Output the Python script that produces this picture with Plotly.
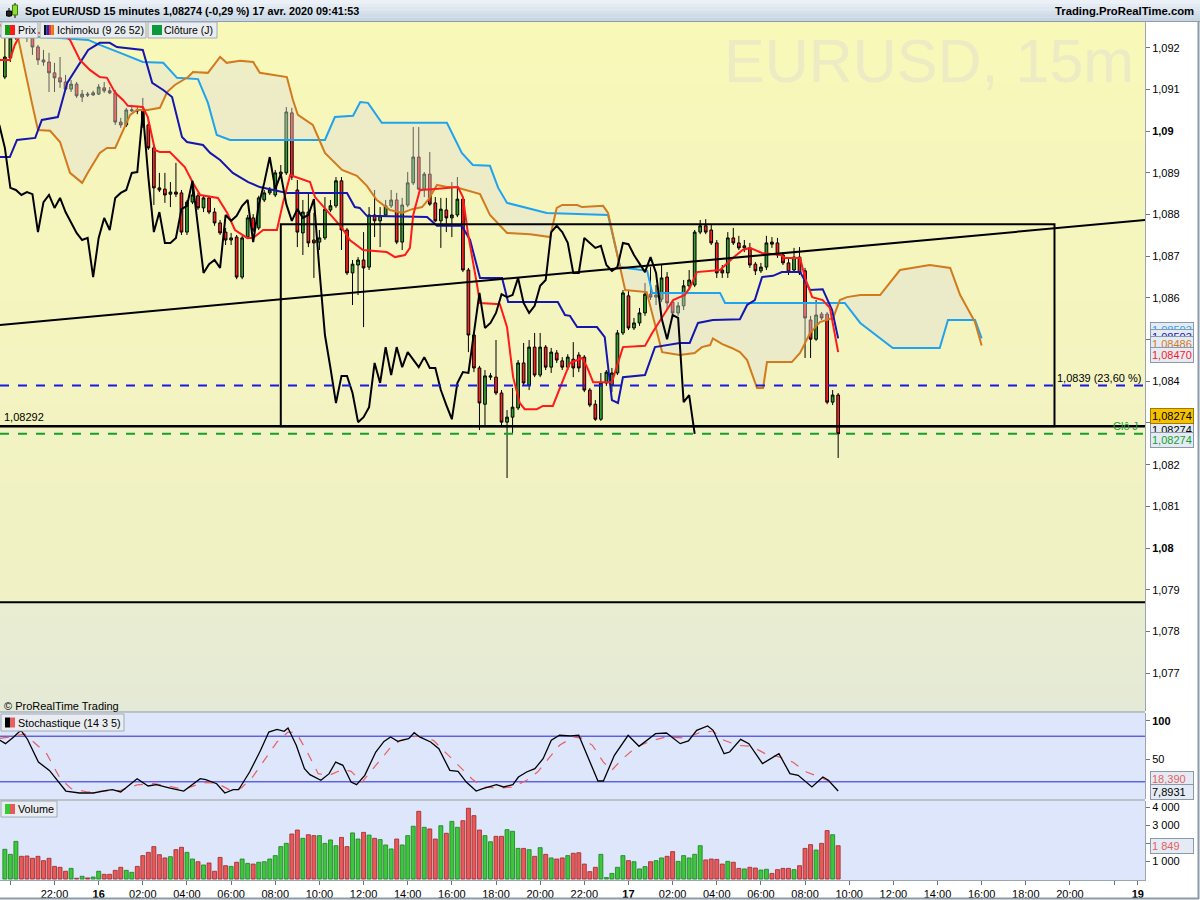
import plotly.graph_objects as go

# ------------------------------------------------------------------ data
bar_idx = list(range(152))  # 15-minute bars, bar 0 = 15 avr. 19:45

open_ = [1.09130,1.09176,1.09224,1.09243,1.09236,1.09224,1.09202,1.09171,1.09166,1.09140,
1.09128,1.09118,1.09101,1.09113,1.09082,1.09089,1.09087,1.09089,1.09104,1.09097,
1.09092,1.09022,1.09015,1.09049,1.09051,1.09049,1.09015,1.08960,1.08864,1.08861,
1.08849,1.08854,1.08852,1.08758,1.08830,1.08845,1.08816,1.08840,1.08806,1.08780,
1.08758,1.08739,1.08746,1.08650,1.08746,1.08792,1.08768,1.08835,1.08852,1.08847,
1.08897,1.08900,1.09044,1.08859,1.08756,1.08806,1.08739,1.08734,1.08744,1.08811,
1.08821,1.08881,1.08763,1.08660,1.08679,1.08691,1.08674,1.08799,1.08785,1.08799,
1.08821,1.08835,1.08734,1.08823,1.08876,1.08938,1.08861,1.08897,1.08828,1.08785,
1.08811,1.08792,1.08799,1.08837,1.08667,1.08511,1.08432,1.08345,1.08410,1.08410,
1.08372,1.08302,1.08314,1.08336,1.08444,1.08391,1.08482,1.08415,1.08482,1.08434,
1.08468,1.08449,1.08434,1.08453,1.08463,1.08458,1.08379,1.08345,1.08309,1.08396,
1.08391,1.08420,1.08516,1.08605,1.08528,1.08540,1.08564,1.08609,1.08602,1.08597,
1.08650,1.08590,1.08564,1.08581,1.08629,1.08631,1.08758,1.08773,1.08763,1.08732,
1.08667,1.08660,1.08744,1.08732,1.08720,1.08720,1.08681,1.08665,1.08674,1.08734,
1.08732,1.08703,1.08684,1.08667,1.08698,1.08665,1.08547,1.08501,1.08561,1.08561,
1.08350,1.08367]

high = [1.09224,1.09243,1.09257,1.09253,1.09248,1.09231,1.09207,1.09195,1.09188,1.09164,
1.09178,1.09135,1.09123,1.09118,1.09099,1.09094,1.09097,1.09113,1.09118,1.09106,
1.09099,1.09032,1.09056,1.09058,1.09061,1.09080,1.09027,1.08967,1.08900,1.08900,
1.08878,1.08924,1.08859,1.08835,1.08878,1.08852,1.08847,1.08845,1.08816,1.08787,
1.08768,1.08756,1.08751,1.08749,1.08799,1.08801,1.08845,1.08859,1.08866,1.08907,
1.08919,1.09058,1.09056,1.08883,1.08835,1.08852,1.08804,1.08763,1.08842,1.08835,
1.08890,1.08890,1.08768,1.08691,1.08698,1.08758,1.08818,1.08859,1.08818,1.08835,
1.08859,1.08852,1.08840,1.08902,1.09010,1.09010,1.08902,1.08950,1.08842,1.08840,
1.08840,1.08878,1.08890,1.08842,1.08672,1.08516,1.08437,1.08427,1.08420,1.08499,
1.08379,1.08331,1.08384,1.08451,1.08492,1.08499,1.08516,1.08516,1.08487,1.08480,
1.08475,1.08458,1.08465,1.08494,1.08470,1.08463,1.08384,1.08355,1.08420,1.08427,
1.08432,1.08523,1.08619,1.08619,1.08552,1.08576,1.08636,1.08674,1.08631,1.08679,
1.08662,1.08595,1.08590,1.08643,1.08667,1.08763,1.08787,1.08789,1.08775,1.08739,
1.08679,1.08758,1.08768,1.08749,1.08739,1.08732,1.08686,1.08684,1.08749,1.08746,
1.08744,1.08710,1.08696,1.08720,1.08722,1.08672,1.08557,1.08595,1.08566,1.08566,
1.08379,1.08372]

low = [1.09125,1.09166,1.09219,1.09224,1.09214,1.09183,1.09159,1.09157,1.09094,1.09094,
1.09104,1.09099,1.09094,1.09080,1.09070,1.09082,1.09085,1.09087,1.09092,1.09089,
1.09015,1.09008,1.09010,1.09046,1.09041,1.09008,1.08955,1.08823,1.08854,1.08828,
1.08818,1.08842,1.08751,1.08751,1.08825,1.08811,1.08806,1.08801,1.08773,1.08751,
1.08727,1.08727,1.08645,1.08645,1.08741,1.08758,1.08763,1.08830,1.08847,1.08842,
1.08888,1.08895,1.08883,1.08722,1.08703,1.08722,1.08648,1.08715,1.08739,1.08806,
1.08816,1.08715,1.08655,1.08583,1.08607,1.08530,1.08667,1.08746,1.08722,1.08794,
1.08816,1.08729,1.08715,1.08818,1.08871,1.08859,1.08842,1.08821,1.08782,1.08720,
1.08758,1.08746,1.08794,1.08662,1.08470,1.08422,1.08283,1.08295,1.08403,1.08367,
1.08295,1.08168,1.08276,1.08331,1.08391,1.08379,1.08410,1.08410,1.08427,1.08420,
1.08444,1.08427,1.08427,1.08410,1.08422,1.08374,1.08338,1.08305,1.08305,1.08389,
1.08374,1.08415,1.08511,1.08523,1.08523,1.08533,1.08557,1.08595,1.08583,1.08590,
1.08571,1.08552,1.08557,1.08571,1.08619,1.08626,1.08753,1.08753,1.08727,1.08648,
1.08648,1.08648,1.08727,1.08715,1.08710,1.08672,1.08655,1.08660,1.08667,1.08720,
1.08696,1.08679,1.08655,1.08662,1.08655,1.08456,1.08456,1.08497,1.08547,1.08345,
1.08343,1.08216]

close = [1.09178,1.09224,1.09243,1.09236,1.09224,1.09202,1.09171,1.09166,1.09140,1.09128,
1.09118,1.09101,1.09113,1.09085,1.09089,1.09087,1.09092,1.09106,1.09097,1.09092,
1.09022,1.09015,1.09051,1.09051,1.09049,1.09015,1.08960,1.08864,1.08859,1.08847,
1.08854,1.08849,1.08758,1.08830,1.08847,1.08816,1.08840,1.08806,1.08780,1.08756,
1.08739,1.08744,1.08650,1.08744,1.08792,1.08763,1.08840,1.08852,1.08859,1.08900,
1.08902,1.09046,1.08890,1.08758,1.08806,1.08732,1.08732,1.08744,1.08813,1.08821,
1.08881,1.08763,1.08660,1.08681,1.08691,1.08672,1.08799,1.08785,1.08797,1.08821,
1.08835,1.08734,1.08823,1.08876,1.08938,1.08861,1.08897,1.08825,1.08785,1.08813,
1.08792,1.08799,1.08837,1.08667,1.08511,1.08432,1.08348,1.08413,1.08413,1.08372,
1.08302,1.08314,1.08338,1.08444,1.08396,1.08482,1.08415,1.08482,1.08434,1.08470,
1.08451,1.08434,1.08458,1.08432,1.08432,1.08379,1.08343,1.08309,1.08396,1.08422,
1.08420,1.08516,1.08612,1.08528,1.08540,1.08564,1.08609,1.08602,1.08607,1.08648,
1.08588,1.08564,1.08581,1.08629,1.08643,1.08758,1.08773,1.08758,1.08732,1.08660,
1.08660,1.08744,1.08732,1.08720,1.08725,1.08679,1.08665,1.08674,1.08732,1.08729,
1.08703,1.08684,1.08662,1.08698,1.08660,1.08552,1.08501,1.08559,1.08552,1.08350,
1.08367,1.08274]

volume = [1650,1370,2090,1260,1280,1150,1260,1020,1150,700,
650,430,590,40,150,60,110,430,260,260,
480,650,480,370,700,1300,1480,1800,1350,1170,
1240,1630,1760,1480,1110,960,780,890,430,1200,
740,700,930,1110,870,830,930,960,1110,1300,
1800,1980,2500,2720,2260,2460,2410,2410,1980,2170,
1850,2310,1800,2560,2220,2590,2440,2260,2190,1890,
1670,2220,1890,2410,2930,3760,2870,2780,2220,2960,
2540,3200,2870,3240,3930,3520,2720,2410,2070,2370,
2370,2740,2650,1700,1700,1630,1260,1740,1370,1170,
1110,1170,1300,1430,1460,830,410,650,1370,80,
310,650,1300,1020,960,560,690,960,1020,1170,
1260,1520,980,1300,1170,1370,1850,1060,1110,1090,
830,980,930,590,560,650,610,500,540,310,
520,590,590,520,740,1700,1910,1610,1980,2690,
2460,1849]

# Ichimoku (9 26 52) lines, read at their turning points (bar index, price)
tenkan_x = [-0.9,0.9,1.8,2.7,6.4,10.4,11.8,13.6,15.4,17.2,18.5,20.0,21.4,22.3,25.0,25.9,27.2,28.1,29.9,31.7,
32.6,34.1,35.4,38.6,40.3,41.7,43.9,45.0,46.8,49.3,50.4,51.7,55.3,56.2,61.1,62.5,64.9,69.2,70.7,72.5,
73.4,74.0,75.2,77.4,82.1,83.0,83.9,85.5,86.1,89.7,91.0,92.1,93.3,94.2,96.4,97.5,99.3,101.0,102.4,104.6,
105.5,106.6,110.0,112.0,116.0,117.3,119.1,121.1,123.2,124.1,125.4,129.6,131.9,133.7,135.0,137.2,140.5,141.4,144.1,145.0,
146.3,148.2,149.5,151.0]
tenkan_y = [1.09171,1.09171,1.09207,1.09229,1.09236,1.09236,1.09219,1.09171,1.09147,1.09130,1.09128,1.09092,1.09075,1.09061,1.09058,1.09034,1.08955,1.08950,1.08950,1.08926,
1.08914,1.08876,1.08847,1.08840,1.08804,1.08763,1.08744,1.08744,1.08763,1.08763,1.08828,1.08895,1.08878,1.08842,1.08768,1.08739,1.08715,1.08710,1.08698,1.08703,
1.08720,1.08799,1.08859,1.08861,1.08866,1.08842,1.08756,1.08636,1.08588,1.08585,1.08530,1.08410,1.08348,1.08333,1.08333,1.08341,1.08341,1.08398,1.08444,1.08456,
1.08434,1.08398,1.08398,1.08482,1.08485,1.08516,1.08552,1.08595,1.08607,1.08624,1.08662,1.08667,1.08696,1.08715,1.08720,1.08708,1.08703,1.08696,1.08696,1.08648,
1.08602,1.08595,1.08576,1.08470]

kijun_x = [-0.9,0.9,2.2,5.5,6.7,9.6,11.3,13.1,15.1,17.2,19.0,20.3,25.0,26.7,28.7,30.3,32.1,33.0,35.9,37.2,
39.0,41.3,44.1,46.2,49.8,51.1,62.0,63.4,64.3,65.6,76.5,78.3,82.8,84.3,86.1,90.1,91.2,100.2,101.5,102.4,
103.7,107.3,108.7,110.0,111.1,112.0,116.0,117.8,122.3,124.1,125.6,128.3,133.2,134.5,135.9,137.2,139.2,140.8,144.1,145.9,
148.2,149.9,151.0]
kijun_y = [1.08938,1.08938,1.08979,1.08984,1.09027,1.09034,1.09116,1.09154,1.09195,1.09212,1.09212,1.09202,1.09195,1.09116,1.09099,1.09082,1.08986,1.08974,1.08967,1.08948,
1.08931,1.08900,1.08878,1.08866,1.08857,1.08852,1.08852,1.08818,1.08816,1.08797,1.08794,1.08773,1.08773,1.08739,1.08648,1.08648,1.08590,1.08590,1.08559,1.08557,
1.08530,1.08530,1.08506,1.08355,1.08348,1.08410,1.08415,1.08482,1.08492,1.08492,1.08540,1.08547,1.08549,1.08583,1.08595,1.08650,1.08653,1.08662,1.08662,1.08619,
1.08621,1.08571,1.08503]

senkou_a_x = [-0.9,2.4,4.9,6.0,8.2,10.0,11.8,14.0,15.1,17.2,18.5,20.0,22.7,23.9,25.9,28.1,29.4,30.8,33.2,34.1,
36.8,39.0,40.2,42.6,45.0,46.2,51.1,52.2,53.1,55.8,58.0,61.1,63.8,65.6,67.4,69.8,72.0,73.8,75.6,76.7,
78.3,80.1,81.6,86.1,87.9,91.0,95.2,98.8,100.0,101.0,103.7,104.6,108.4,109.3,112.4,116.3,119.1,122.3,125.0,126.3,
127.8,128.3,130.0,131.7,133.2,134.5,136.3,137.4,138.1,142.6,144.1,145.9,147.7,150.1,151.3,152.6,155.0,158.6,162.2,167.6,
171.3,173.1,175.8,177.0]
senkou_a_y = [1.09255,1.09224,1.09068,1.09003,1.09001,1.08974,1.08900,1.08876,1.08902,1.08948,1.08960,1.08960,1.09039,1.09051,1.09051,1.09056,1.09094,1.09111,1.09130,1.09142,
1.09140,1.09178,1.09164,1.09169,1.09166,1.09140,1.09130,1.09075,1.09039,1.09015,1.08948,1.08907,1.08893,1.08869,1.08835,1.08811,1.08804,1.08813,1.08818,1.08835,
1.08871,1.08866,1.08866,1.08849,1.08799,1.08756,1.08753,1.08746,1.08816,1.08823,1.08823,1.08818,1.08821,1.08804,1.08619,1.08614,1.08470,1.08463,1.08468,1.08482,
1.08487,1.08503,1.08489,1.08480,1.08470,1.08451,1.08384,1.08384,1.08446,1.08446,1.08468,1.08516,1.08542,1.08552,1.08595,1.08602,1.08607,1.08607,1.08667,1.08679,
1.08672,1.08607,1.08542,1.08486]

senkou_b_x = [-0.9,9.4,15.1,17.2,20.9,25.0,28.7,31.2,35.0,36.8,38.4,40.8,58.0,59.8,63.1,64.4,65.8,68.3,80.1,82.8,
84.8,87.9,89.4,91.0,98.2,109.3,111.5,116.4,117.3,129.6,130.5,152.2,155.0,160.9,169.4,170.9,175.8,177.0]
senkou_b_y = [1.09229,1.09224,1.09219,1.09207,1.09188,1.09166,1.09164,1.09128,1.09125,1.09068,1.08991,1.08979,1.08979,1.09034,1.09037,1.09070,1.09068,1.09020,1.09020,1.08948,
1.08919,1.08917,1.08864,1.08828,1.08804,1.08799,1.08674,1.08665,1.08612,1.08612,1.08588,1.08588,1.08540,1.08480,1.08480,1.08547,1.08547,1.08503]

chikou_shift = 26

# Stochastique (14 3 5): %K and %D (bar index, value)
stoch_k_x = [-0.88,0.11,1.60,2.90,4.09,6.08,8.07,9.56,11.05,13.53,16.02,18.50,19.50,20.99,23.97,25.96,27.45,29.93,32.42,35.40,
36.40,38.38,39.87,41.37,42.36,44.35,46.34,47.83,49.32,50.61,51.31,52.80,54.29,55.28,57.27,58.76,59.95,61.25,62.74,63.73,
65.22,67.21,68.70,69.89,71.19,73.17,74.17,75.16,77.15,78.64,80.63,82.12,83.61,85.40,86.60,89.08,90.37,92.06,93.06,94.55,
96.04,97.53,99.02,100.51,102.50,103.99,105.48,107.47,108.46,110.45,112.94,114.92,117.91,119.89,122.38,123.87,125.36,127.35,128.34,130.33,
131.33,133.32,134.81,137.29,140.27,142.26,143.75,146.24,148.23,149.22,151.0]
stoch_k_y = [74.6,70.2,79.0,87.7,76.0,46.0,35.0,22.0,7.9,5.3,5.3,8.8,9.6,6.6,24.1,14.5,16.2,11.8,7.9,24.1,
22.8,17.5,5.3,9.6,9.6,32.9,61.4,85.5,89.0,86.4,90.8,68.0,37.3,29.4,22.0,30.7,46.0,41.7,19.7,16.2,
28.5,59.2,73.2,79.0,73.2,76.7,84.6,79.0,72.4,63.6,35.0,33.7,19.7,7.9,11.0,16.2,13.2,16.2,26.3,32.9,
37.3,50.4,74.6,81.2,80.3,81.2,54.8,21.1,21.1,54.8,81.2,66.7,83.4,84.2,70.2,73.7,87.7,93.4,87.7,57.0,
59.2,75.9,70.2,43.9,57.0,30.7,28.5,13.2,26.3,22.0,7.89]
stoch_d_x = [-0.88,1.11,3.59,7.57,10.05,12.04,15.02,18.50,20.99,23.97,26.95,28.94,32.42,35.90,38.38,40.87,42.86,44.85,46.83,49.32,
51.31,52.80,54.79,56.77,58.76,61.25,62.74,64.73,67.71,69.70,71.69,74.66,77.65,80.13,82.62,84.61,86.60,89.58,92.06,94.55,
96.53,98.52,100.51,103.00,104.48,106.47,108.46,109.95,111.94,114.43,117.41,119.89,123.37,125.86,128.34,130.33,132.81,135.30,137.78,140.27,
142.75,145.24,147.72,149.71,151.0]
stoch_d_y = [77.2,79.0,83.0,57.0,24.0,11.0,6.6,7.5,8.8,16.0,17.5,15.4,10.0,19.0,18.5,8.8,12.0,26.0,46.0,72.4,
85.5,84.6,59.2,30.7,28.5,36.4,33.7,19.7,46.0,63.6,74.6,80.3,74.6,57.0,39.5,24.1,13.2,11.8,13.2,22.0,
32.9,50.4,68.0,79.0,77.5,68.0,46.0,35.0,50.4,65.8,74.6,79.0,77.5,84.6,86.8,74.6,68.0,66.7,57.0,52.7,
46.0,32.9,26.3,19.7,18.39]

# drawn levels
rect_x = [50.0, 190.2]
rect_price = [1.08292, 1.08777]
trend_x = [-0.88, 206.6]
trend_price = [1.08535, 1.08787]
fib_level = 1.0839
close_j = 1.08274
support_level = 1.08292
low_level = 1.0787
stoch_bands = [80, 20]

# tick labels (1,085 / 1,083 / 2 000 sit under the value boxes, as in the reference)
price_ticks = [1.077,1.078,1.079,1.080,1.081,1.082,1.083,1.084,1.085,1.086,1.087,1.088,1.089,1.090,1.091,1.092]
price_tick_text = ["1,077","1,078","1,079","<b>1,08</b>","1,081","1,082","","1,084","","1,086",
                   "1,087","1,088","1,089","<b>1,09</b>","1,091","1,092"]
time_tickvals = [1,9,17,25,33,41,49,57,65,73,81,89,97,105,113,121,129,137,145,153,161,169,177,185,193,201,205.3]
time_ticktext = ["","22:00","<b>16</b>","02:00","04:00","06:00","08:00","10:00","12:00","14:00","16:00","18:00",
                 "20:00","22:00","<b>17</b>","02:00","04:00","06:00","08:00","10:00","12:00","14:00","16:00",
                 "18:00","20:00","","<b>19</b>"]
stoch_ticks = [50, 100]
stoch_tick_text = ["50", "<b>100</b>"]
vol_ticks = [1000, 2000, 3000, 4000]
vol_tick_text = ["1 000", "", "3 000", "4 000"]

# ------------------------------------------------------------------ layout helpers
W, H = 1200, 900
ML, MR, MT, MB = 0, 55, 22, 20
PW, PH = W - ML - MR, H - MT - MB
FONT = "Liberation Sans, Arial, sans-serif"

def px(x):
    return (x - ML) / PW

def py(y):
    return (H - MB - y) / PH

def lerp(c1, c2, t):
    return "rgb(%d,%d,%d)" % tuple(round(a + (b - a) * t) for a, b in zip(c1, c2))

GREEN, RED = "#2f9f2f", "#ff2020"

fig = go.Figure()

# Kumo fill (below candles)
fig.add_trace(go.Scatter(x=senkou_b_x, y=senkou_b_y, mode="lines", line=dict(width=0),
                         hoverinfo="skip", showlegend=False))
fig.add_trace(go.Scatter(x=senkou_a_x, y=senkou_a_y, mode="lines", line=dict(width=0),
                         fill="tonexty", fillcolor="rgba(224,222,214,0.42)",
                         hoverinfo="skip", showlegend=False))

fig.add_trace(go.Candlestick(
    x=bar_idx, open=open_, high=high, low=low, close=close,
    increasing=dict(line=dict(color="#000000", width=1), fillcolor=GREEN),
    decreasing=dict(line=dict(color="#000000", width=1), fillcolor=RED),
    whiskerwidth=0, hoverinfo="skip", showlegend=False))

fig.add_trace(go.Scatter(x=senkou_b_x, y=senkou_b_y, mode="lines",
                         line=dict(color="#1fa3ef", width=2), hoverinfo="skip", showlegend=False))
fig.add_trace(go.Scatter(x=senkou_a_x, y=senkou_a_y, mode="lines",
                         line=dict(color="#d27a1e", width=2), hoverinfo="skip", showlegend=False))
fig.add_trace(go.Scatter(x=kijun_x, y=kijun_y, mode="lines",
                         line=dict(color="#1515b0", width=2), hoverinfo="skip", showlegend=False))
fig.add_trace(go.Scatter(x=tenkan_x, y=tenkan_y, mode="lines",
                         line=dict(color="#ff1a1a", width=2), hoverinfo="skip", showlegend=False))
fig.add_trace(go.Scatter(x=[i - chikou_shift for i in bar_idx[25:]], y=close[25:], mode="lines",
                         line=dict(color="#000000", width=2), hoverinfo="skip", showlegend=False))

# Stochastic
fig.add_trace(go.Scatter(x=stoch_d_x, y=stoch_d_y, yaxis="y2", mode="lines",
                         line=dict(color="#e86060", width=1.2, dash="dash"),
                         hoverinfo="skip", showlegend=False))
fig.add_trace(go.Scatter(x=stoch_k_x, y=stoch_k_y, yaxis="y2", mode="lines",
                         line=dict(color="#000000", width=1.3), hoverinfo="skip", showlegend=False))

# Volume
vol_fill = ["#3cc83c" if c >= o else "#e85a5a" for o, c in zip(open_, close)]
vol_line = ["#1c7d1c" if c >= o else "#9e2424" for o, c in zip(open_, close)]
fig.add_trace(go.Bar(x=bar_idx, y=volume, yaxis="y3", width=0.72,
                     marker=dict(color=vol_fill, line=dict(color=vol_line, width=0.8)),
                     hoverinfo="skip", showlegend=False))

# ------------------------------------------------------------------ shapes
shapes = []
# main panel gradient background
n = 29
for k in range(n):
    y0 = 22 + k * (602 - 22) / n
    y1 = 22 + (k + 1) * (602 - 22) / n
    shapes.append(dict(type="rect", xref="paper", yref="paper", x0=0, x1=1, y0=py(y1 + 0.5), y1=py(y0),
                       fillcolor=lerp((248, 248, 185), (240, 241, 197), k / (n - 1)), line_width=0, layer="below"))
n2 = 8
for k in range(n2):
    y0 = 602 + k * (711 - 602) / n2
    y1 = 602 + (k + 1) * (711 - 602) / n2
    shapes.append(dict(type="rect", xref="paper", yref="paper", x0=0, x1=1, y0=py(y1 + 0.5), y1=py(y0),
                       fillcolor=lerp((233, 237, 209), (229, 234, 214), k / (n2 - 1)), line_width=0, layer="below"))
# panel separators
for ysep in (712, 800):
    shapes.append(dict(type="line", xref="paper", yref="paper", x0=0, x1=1, y0=py(ysep), y1=py(ysep),
                       line=dict(color="#a4aeb8", width=1.5), layer="above"))
# stochastic bands
for lv in stoch_bands:
    shapes.append(dict(type="line", xref="paper", yref="y2", x0=0, x1=1, y0=lv, y1=lv,
                       line=dict(color="#2525d8", width=1), layer="below"))
# drawn objects on price chart
shapes.append(dict(type="line", xref="paper", yref="y", x0=0, x1=1, y0=fib_level, y1=fib_level,
                   line=dict(color="#1a1ae0", width=2, dash="dash"), layer="above"))
shapes.append(dict(type="line", xref="paper", yref="y", x0=0, x1=1, y0=close_j, y1=close_j,
                   line=dict(color="#16a02a", width=2, dash="dash"), layer="above"))
shapes.append(dict(type="line", xref="paper", yref="y", x0=0, x1=1, y0=support_level, y1=support_level,
                   line=dict(color="#000000", width=2.5), layer="above"))
shapes.append(dict(type="line", xref="paper", yref="y", x0=0, x1=1, y0=low_level, y1=low_level,
                   line=dict(color="#000000", width=2), layer="above"))
shapes.append(dict(type="rect", xref="x", yref="y", x0=rect_x[0], x1=rect_x[1],
                   y0=rect_price[0], y1=rect_price[1], line=dict(color="#000000", width=2), layer="above"))
shapes.append(dict(type="line", xref="x", yref="y", x0=trend_x[0], x1=trend_x[1],
                   y0=trend_price[0], y1=trend_price[1], line=dict(color="#000000", width=2), layer="above"))

# header bar
nh = 6
for k in range(nh):
    y0 = k * 21 / nh
    y1 = (k + 1) * 21 / nh
    shapes.append(dict(type="rect", xref="paper", yref="paper", x0=px(0), x1=px(1200),
                       y0=py(y1 + 0.3), y1=py(y0), fillcolor=lerp((236, 241, 247), (200, 213, 226), k / (nh - 1)),
                       line_width=0, layer="above"))
shapes.append(dict(type="line", xref="paper", yref="paper", x0=px(0), x1=px(1200), y0=py(21.5), y1=py(21.5),
                   line=dict(color="#8e9bab", width=1), layer="above"))
# header icon
shapes.append(dict(type="line", xref="paper", yref="paper", x0=px(9), x1=px(9), y0=py(17), y1=py(8),
                   line=dict(color="#000", width=1), layer="above"))
shapes.append(dict(type="rect", xref="paper", yref="paper", x0=px(6.5), x1=px(11.5), y0=py(16), y1=py(11),
                   fillcolor="#222", line=dict(color="#000", width=1), layer="above"))
shapes.append(dict(type="line", xref="paper", yref="paper", x0=px(15), x1=px(15), y0=py(18), y1=py(3),
                   line=dict(color="#000", width=1), layer="above"))
shapes.append(dict(type="rect", xref="paper", yref="paper", x0=px(12.5), x1=px(17.5), y0=py(15), y1=py(5),
                   fillcolor="#8fdc2e", line=dict(color="#3a7a10", width=1), layer="above"))

# legend boxes
def legend_box(x0, x1, y0, y1, icon_colors):
    shapes.append(dict(type="rect", xref="paper", yref="paper", x0=px(x0), x1=px(x1), y0=py(y1), y1=py(y0),
                       fillcolor="#e9edf1", line=dict(color="#a1aab4", width=1), layer="above"))
    n_ic = len(icon_colors)
    wseg = 10 / n_ic
    for j, c in enumerate(icon_colors):
        shapes.append(dict(type="rect", xref="paper", yref="paper",
                           x0=px(x0 + 4 + j * wseg), x1=px(x0 + 4 + (j + 1) * wseg),
                           y0=py(y0 + (y1 - y0) / 2 + 5), y1=py(y0 + (y1 - y0) / 2 - 5),
                           fillcolor=c, line_width=0, layer="above"))

legend_box(1, 38, 22, 38, ["#109a10", "#ff1a1a"])
legend_box(40, 146, 22, 38, ["#101010", "#1c28c8", "#ff2a2a", "#e07a10"])
legend_box(148, 217, 22, 38, ["#0a9a3a"])
legend_box(1, 124, 714, 731, ["#000000", "#e66060"])
legend_box(1, 57, 801, 817, ["#33cc33", "#e85a5a"])

# outer border
shapes.append(dict(type="line", xref="paper", yref="paper", x0=px(1198.5), x1=px(1198.5), y0=py(899), y1=py(22),
                   line=dict(color="#8d9aa8", width=2), layer="above"))
shapes.append(dict(type="line", xref="paper", yref="paper", x0=px(0), x1=px(1199), y0=py(898.5), y1=py(898.5),
                   line=dict(color="#8d9aa8", width=2), layer="above"))

# ------------------------------------------------------------------ annotations
ann = []

def text(x, y, s, size=11, color="#000", anchor="left", bold=False, vanchor="middle"):
    ann.append(dict(xref="paper", yref="paper", x=px(x), y=py(y), text=("<b>%s</b>" % s) if bold else s,
                    showarrow=False, xanchor=anchor, yanchor=vanchor,
                    font=dict(family=FONT, size=size, color=color)))

# watermark
text(1136, 61, "EURUSD, 15m", size=61, color="#ecebc3", anchor="right")

text(23, 11, "Spot EUR/USD 15 minutes 1,08274 (-0,29 %) 17 avr. 2020 09:41:53", size=10.8, bold=True)
text(1196, 11, "Trading.ProRealTime.com", size=11.3, bold=True, anchor="right")
text(16, 30, "Prix", size=10.5)
text(55, 30, "Ichimoku (9 26 52)", size=10.5)
text(162, 30, "Clôture (J)", size=10.5)
text(16, 723, "Stochastique (14 3 5)", size=10.8)
text(16, 809, "Volume", size=10.8)
text(2, 706, "© ProRealTime Trading")
text(2, 417, "1,08292")
text(1055, 378, "1,0839 (23,60 %)")
text(1111, 426, "Clô J", color="#20a030")

def axis_box(y, s, color, bg="#e4ebf5", border="#8c99a8"):
    ann.append(dict(xref="paper", yref="paper", x=px(1150), y=py(y), text=s, showarrow=False,
                    xanchor="left", yanchor="middle", align="left", width=40, height=12,
                    bgcolor=bg, bordercolor=border, borderwidth=1, borderpad=1,
                    font=dict(family=FONT, size=11, color=color)))

axis_box(330, "1,08503", "#1fa3ef")
axis_box(337, "1,08503", "#1515b0")
axis_box(344, "1,08486", "#d27a1e")
axis_box(355, "1,08470", "#ff1a1a")
axis_box(430, "1,08274", "#000000")
axis_box(440, "1,08274", "#16a02a")
axis_box(416, "1,08274", "#000000", bg="#f5c000", border="#a07a00")
axis_box(779, "18,390", "#e86060")
axis_box(792, "7,8931", "#000000")
axis_box(846, "1 849", "#e86060")

# ------------------------------------------------------------------ axes
common = dict(showgrid=False, zeroline=False, showline=True, linecolor="#9aa5b0", linewidth=1,
              ticks="outside", ticklen=4, tickcolor="#6b7480", fixedrange=True, automargin=False,
              tickfont=dict(family=FONT, size=11, color="#000"))

fig.update_layout(
    width=W, height=H, margin=dict(l=ML, r=MR, t=MT, b=MB, pad=0),
    paper_bgcolor="white", plot_bgcolor="#dde6fb", showlegend=False,
    shapes=shapes, annotations=ann,
    xaxis=dict(domain=[0, 1], range=[-0.88, 206.6], anchor="y3", tickmode="array",
               tickvals=time_tickvals, ticktext=time_ticktext, rangeslider=dict(visible=False), **common),
    yaxis=dict(domain=[py(711), 1], range=[1.07609, 1.09262], side="right", anchor="x",
               tickmode="array", tickvals=price_ticks, ticktext=price_tick_text, **common),
    yaxis2=dict(domain=[py(799), py(713)], range=[-2.6, 110.5], side="right", anchor="x",
                tickmode="array", tickvals=stoch_ticks, ticktext=stoch_tick_text, **common),
    yaxis3=dict(domain=[0, py(801)], range=[-55, 4333], side="right", anchor="x",
                tickmode="array", tickvals=vol_ticks, ticktext=vol_tick_text, **common),
)

fig.write_html("out.html", config={"displayModeBar": False},
               post_script="document.body.style.margin='0';document.body.style.overflow='hidden';")
